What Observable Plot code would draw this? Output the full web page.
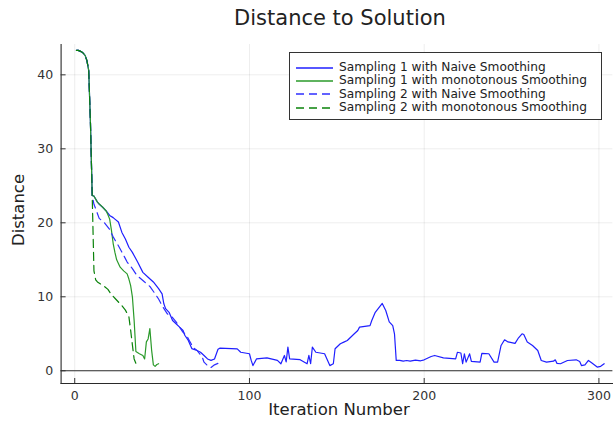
<!DOCTYPE html>
<html><head><meta charset="utf-8">
<script src="https://cdn.jsdelivr.net/npm/d3@7"></script>
<script src="https://cdn.jsdelivr.net/npm/@observablehq/plot@0.6"></script>
<style>
body{margin:0;background:#fff;font-family:"DejaVu Sans",sans-serif;}
#wrap{position:relative;width:613px;height:423px;overflow:hidden;}
.lab{position:absolute;color:#222;white-space:nowrap;}
#title{left:40px;width:600px;top:6px;text-align:center;font-size:21px;}
#xlab{left:39px;width:600px;top:400px;text-align:center;font-size:16.5px;}
#ylab{left:18px;top:210px;font-size:16.5px;transform:translate(-50%,-50%) rotate(-90deg);}
#legend{position:absolute;left:289px;top:52px;width:311px;height:66px;border:1px solid #333;background:#fff;font-size:12.2px;color:#222;}
#legend div{position:absolute;left:6px;height:14px;line-height:14px;}
#legend svg{vertical-align:middle;margin-right:6px;}
</style></head>
<body>
<div id="wrap">
  <div id="chart"></div>
  <div class="lab" id="title">Distance to Solution</div>
  <div class="lab" id="xlab">Iteration Number</div>
  <div class="lab" id="ylab">Distance</div>
  <div id="legend"></div>
</div>
<script>
// ---- data ----
const seriesNames = [
  "Sampling 1 with Naive Smoothing",
  "Sampling 1 with monotonous Smoothing",
  "Sampling 2 with Naive Smoothing",
  "Sampling 2 with monotonous Smoothing"
];
const seriesColors = ["#1f1fff", "#2a9a2a", "#2f2fff", "#0a820a"];
const seriesDash = [null, null, "8,5", "8,5"];

const startX = [1, 2, 3, 4, 5, 6, 7, 8, 9, 10];
const startY = [43.3, 43.3, 43.2, 43.1, 42.9, 42.6, 41.9, 40.6, 33.5, 23.7];

const s1NaiveX = [11, 12, 13, 14, 16, 18, 20, 22, 23, 25, 27, 29, 31, 33, 36, 39, 42, 45, 48, 50, 51, 52, 54, 56, 58, 60, 62, 63, 65, 67, 70, 72, 74, 76, 78, 80, 82, 83, 93, 95, 100, 101, 102, 104, 110, 116, 118, 120, 121, 122, 123, 129, 133, 134, 135, 136, 138, 143, 146, 148, 149, 152, 154, 156, 160, 162, 163, 169, 170, 172, 176, 178, 180, 182, 183, 184, 186, 188, 190, 192, 195, 198, 200, 204, 206, 211, 218, 219, 221, 222, 223, 224, 226, 227, 232, 233, 237, 240, 242, 244, 246, 248, 252, 254, 256, 257, 259, 262, 265, 267, 270, 274, 275, 276, 278, 282, 287, 289, 290, 292, 294, 296, 299, 301, 303];
const s1NaiveY = [23.6, 23.2, 22.8, 22.5, 22.1, 21.6, 21.0, 20.7, 20.5, 20.1, 18.7, 17.8, 16.7, 16.0, 14.7, 13.3, 12.65, 12.0, 11.1, 10.4, 9.05, 8.4, 7.9, 6.8, 6.35, 5.9, 5.45, 4.8, 4.1, 3.0, 2.74, 2.5, 2.07, 1.6, 1.4, 1.6, 2.9, 3.06, 2.97, 2.5, 2.3, 1.4, 0.7, 1.6, 1.75, 1.4, 0.95, 2.07, 1.2, 3.2, 1.6, 1.5, 0.95, 2.07, 0.95, 3.2, 2.5, 2.3, 0.7, 0.95, 2.97, 3.65, 3.87, 4.1, 5.0, 5.45, 5.9, 6.1, 6.8, 7.9, 9.1, 8.15, 6.6, 6.1, 5.0, 1.4, 1.4, 1.3, 1.39, 1.3, 1.45, 1.35, 1.48, 1.93, 2.07, 1.75, 1.6, 2.5, 2.4, 0.95, 2.3, 1.17, 2.3, 1.26, 1.17, 2.35, 2.3, 1.17, 1.17, 3.42, 4.19, 3.9, 3.7, 4.46, 5.0, 4.9, 3.9, 3.42, 2.74, 1.39, 1.17, 1.3, 1.48, 1.0, 0.95, 1.39, 1.48, 1.26, 0.7, 0.8, 1.39, 1.05, 0.5, 0.6, 0.95];

const s1MonoX = [11, 12, 13, 16, 18, 19, 20, 21, 22, 23, 24, 26, 28, 30, 31, 32, 33, 34, 35, 37, 39, 40, 41, 42, 43, 44, 45, 46, 47, 48];
const s1MonoY = [23.6, 23.2, 22.8, 22.1, 21.6, 21.1, 20.5, 19.0, 17.2, 16.0, 15.0, 14.0, 13.5, 13.1, 12.4, 11.5, 10.0, 6.8, 2.6, 2.3, 2.07, 1.6, 3.9, 4.3, 5.7, 2.8, 0.8, 0.6, 0.85, 0.95];

const s2NaiveX = [11, 12, 14, 17, 20, 22, 25, 28, 30, 33, 35, 37, 40, 43, 46, 48, 50, 53, 56, 58, 60, 62, 64, 66, 68, 70, 73, 74, 76, 78, 80, 82, 84];
const s2NaiveY = [22.5, 21.9, 20.6, 20.0, 19.1, 18.1, 16.9, 15.6, 14.7, 13.8, 13.1, 12.6, 12.0, 11.4, 10.4, 9.7, 8.8, 7.7, 7.2, 6.6, 5.9, 5.2, 4.8, 3.9, 3.1, 2.74, 1.84, 1.16, 0.7, 0.45, 0.8, 1.0, 1.0];

const s2MonoX = [11, 12, 13, 15, 17, 19, 21, 23, 25, 27, 29, 31, 32, 33, 34, 35, 36, 37];
const s2MonoY = [13.5, 12.3, 12.0, 11.7, 11.4, 11.0, 10.3, 9.8, 9.3, 8.8, 8.2, 7.3, 5.5, 3.5, 1.6, 1.0, 0.85, 0.8];

const xTicks = [0, 100, 200, 300];
const yTicks = [0, 10, 20, 30, 40];

// ---- build ----
function rows(xs, ys) {
  const X = startX.concat(xs), Y = startY.concat(ys);
  return X.map((x, i) => ({x, y: Y[i]}));
}
const series = [
  rows(s1NaiveX, s1NaiveY),
  rows(s1MonoX, s1MonoY),
  rows(s2NaiveX, s2NaiveY),
  rows(s2MonoX, s2MonoY)
];

const chart = Plot.plot({
  width: 613,
  height: 423,
  marginLeft: 60.6,
  marginRight: 0.6,
  marginTop: 44,
  marginBottom: 40,
  style: {fontFamily: "DejaVu Sans, sans-serif", fontSize: "12px", color: "#333", background: "#fff"},
  x: {domain: [-7.8, 308]},
  y: {domain: [-1.72, 44.1]},
  marks: [
    Plot.gridX(xTicks, {stroke: "#000", strokeOpacity: 0.07}),
    Plot.gridY(yTicks.filter(d => d !== 0), {stroke: "#000", strokeOpacity: 0.07}),
    Plot.ruleY([0], {stroke: "#2a2a2a", strokeWidth: 1.1}),
    Plot.frame({anchor: "left", stroke: "#2a2a2a", strokeWidth: 1.1}),
    Plot.frame({anchor: "bottom", stroke: "#2a2a2a", strokeWidth: 1.1}),
    Plot.axisX(xTicks, {anchor: "bottom", tickSize: -5, text: null, label: null, stroke: "#333"}),
    Plot.axisX(xTicks, {anchor: "bottom", tickSize: 0, tickPadding: 8, label: null, fill: "#333", fontSize: 12.5}),
    Plot.axisY(yTicks, {anchor: "left", tickSize: -5, text: null, label: null, stroke: "#333"}),
    Plot.axisY(yTicks, {anchor: "left", tickSize: 0, tickPadding: 8, label: null, fill: "#333", fontSize: 12.5}),
    ...series.map((data, i) => Plot.line(data, {
      x: "x", y: "y",
      stroke: seriesColors[i],
      strokeWidth: 1.2,
      strokeDasharray: seriesDash[i]
    }))
  ]
});
document.getElementById("chart").appendChild(chart);

// legend
const legend = document.getElementById("legend");
seriesNames.forEach((name, i) => {
  const row = document.createElement("div");
  row.style.top = (7 + i * 13.4) + "px";
  const dash = seriesDash[i] ? `stroke-dasharray="${seriesDash[i]}"` : "";
  row.innerHTML = `<svg width="37" height="4"><line x1="0" y1="2" x2="37" y2="2" stroke="${seriesColors[i]}" stroke-width="1.4" ${dash}/></svg>${name}`;
  legend.appendChild(row);
});
</script>
</body></html>
